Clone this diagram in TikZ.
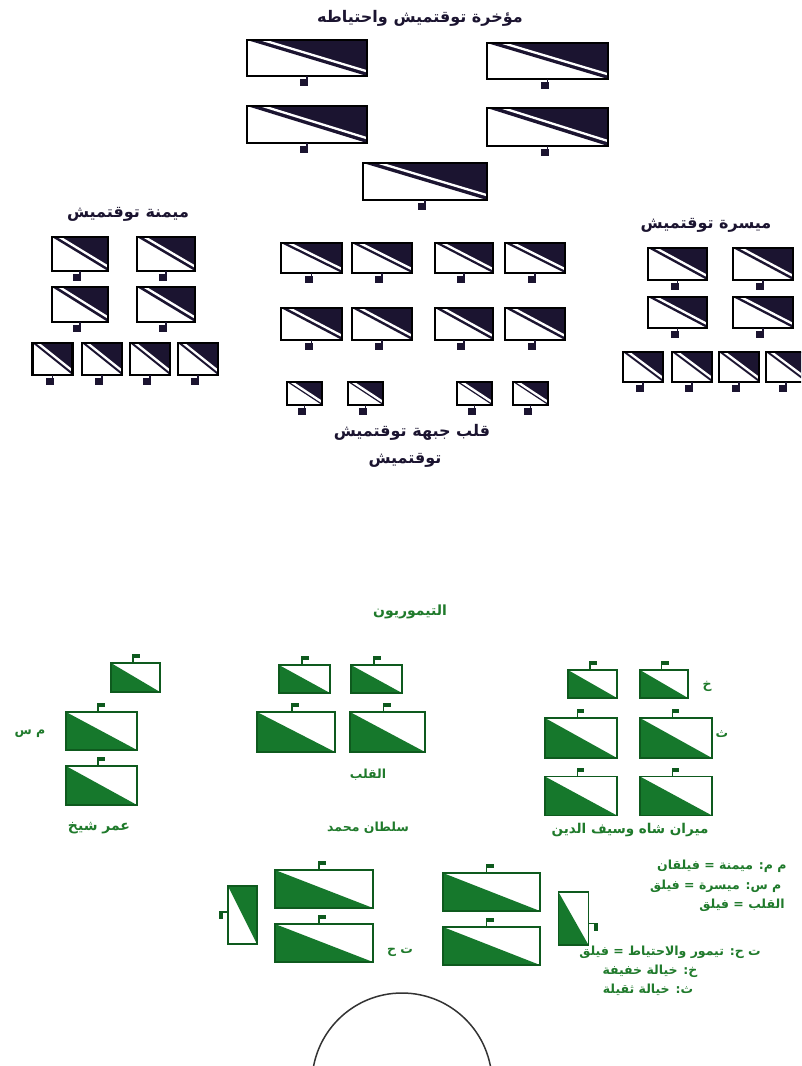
\documentclass[tikz,border=0pt]{standalone}
\usepackage{fontspec}
\usetikzlibrary{calc}
\TeXXeTstate=1
\newfontfamily\arabicfont[Script=Arabic]{DejaVu Sans}
\definecolor{navy}{HTML}{1B1430}
\definecolor{grn}{HTML}{16782C}
\definecolor{grnd}{HTML}{0E5A1E}
\definecolor{txtg}{HTML}{1F7A2B}
\newcommand{\BU}[5]{\node[bunit, minimum width=#4pt, minimum height=#5pt] (#1) at (#2,#3) {};
  \draw[navy, line width=1.4pt] (#1.south) -- ++(0,9);
  \fill[navy] ($(#1.south)+(-7,3)$) rectangle ++(8,7);}
\newcommand{\GU}[5]{\node[gunit, minimum width=#4pt, minimum height=#5pt] (#1) at (#2,#3) {};
  \draw[grnd, line width=1.3pt] ($(#1.north west)!0.45!(#1.north east)$) -- ++(0,-9);
  \fill[grnd] ($(#1.north west)!0.45!(#1.north east)+(0,-9)$) rectangle ++(7,4);}
\tikzset{
  bunit/.style={draw=black, line width=2.4pt, inner sep=0pt, outer sep=0pt,
    path picture={
      \fill[navy] (path picture bounding box.north west) -- (path picture bounding box.north east) -- (path picture bounding box.south east) -- cycle;
      \draw[white, line width=2.3pt] ($(path picture bounding box.north west)!0.13!(path picture bounding box.north east)$) -- ($(path picture bounding box.south east)!0.13!(path picture bounding box.north east)$);
    }},
  gunit/.style={draw=grnd, line width=1.6pt, inner sep=0pt, outer sep=0pt,
    path picture={
      \fill[grn] (path picture bounding box.north west) -- (path picture bounding box.south west) -- (path picture bounding box.south east) -- cycle;
    }},
  gunitv/.style={draw=grnd, line width=1.6pt, inner sep=0pt, outer sep=0pt,
    path picture={
      \fill[grn] (path picture bounding box.north west) -- (path picture bounding box.north east) -- (path picture bounding box.south east) -- cycle;
    }},
  btext/.style={font=\arabicfont\bfseries\fontsize{16}{18}\selectfont, text=navy, inner sep=0pt},
  gtext/.style={font=\arabicfont\bfseries\fontsize{12.5}{14}\selectfont, text=txtg, inner sep=0pt},
  ltext/.style={font=\arabicfont\bfseries\fontsize{12.5}{14}\selectfont, text=txtg, inner sep=0pt}
}
\begin{document}
\begin{tikzpicture}[x=1pt,y=-1pt]
\useasboundingbox (0,0) rectangle (801,1066);
\clip (0,0) rectangle (801,1066);
\fill[white] (0,0) rectangle (801,1066);

% ---------------- Tokhtamysh (top) ----------------
\node[btext] (title) at (420,18) {\beginR مؤخرة توقتميش واحتياطه\endR};
\BU{t1}{307}{58}{120}{36}
\BU{t2}{547.5}{61}{121}{36}
\BU{t3}{307}{124.5}{120}{37}
\BU{t4}{547.5}{127}{121}{38}
\BU{t5}{425}{181.5}{124}{37}

\node[btext] (ltitle) at (128,214) {\beginR ميمنة توقتميش\endR};
\BU{l1}{80}{254}{56}{34}
\BU{l2}{166}{254}{58}{34}
\BU{l3}{80}{304.5}{56}{35}
\BU{l4}{166}{304.5}{58}{35}
\BU{l5}{52.5}{359}{40}{32}
\BU{l6}{102}{359}{40}{32}
\BU{l7}{150}{359}{40}{32}
\BU{l8}{198}{359}{40}{32}

\BU{c1}{311.5}{258}{61}{30}
\BU{c2}{382}{258}{60}{30}
\BU{c3}{464}{258}{58}{30}
\BU{c4}{535}{258}{60}{30}
\BU{c5}{311.5}{324}{61}{32}
\BU{c6}{382}{324}{60}{32}
\BU{c7}{464}{324}{58}{32}
\BU{c8}{535}{324}{60}{32}
\BU{c9}{304.5}{393.5}{35}{23}
\BU{c10}{365.5}{393.5}{35}{23}
\BU{c11}{474.5}{393.5}{35}{23}
\BU{c12}{530.5}{393.5}{35}{23}
\node[btext] (ctitle) at (412,432) {\beginR قلب جبهة توقتميش\endR};
\node[btext] (tokh) at (405,460) {\beginR توقتميش\endR};

\node[btext] (rtitle) at (706,225) {\beginR ميسرة توقتميش\endR};
\BU{r1}{677.5}{264}{59}{32}
\BU{r2}{763}{264}{60}{32}
\BU{r3}{677.5}{312.5}{59}{31}
\BU{r4}{763}{312.5}{60}{31}
\BU{r5}{643}{367}{40}{30}
\BU{r6}{692}{367}{40}{30}
\BU{r7}{739}{367}{40}{30}
\BU{r8}{786}{367}{40}{30}

% ---------------- Timurids (bottom) ----------------
\node[gtext, font=\arabicfont\bfseries\fontsize{14}{16}\selectfont] (tim) at (410,612) {\beginR التيموريون\endR};

\GU{g1}{135.5}{677.5}{49}{29}
\GU{g2}{101.5}{731}{71}{38}
\GU{g3}{101.5}{785.5}{71}{39}
\node[gtext] (ms) at (30,734) {\beginR م س\endR};
\node[gtext, font=\arabicfont\bfseries\fontsize{14}{16}\selectfont] (omar) at (99,828) {\beginR عمر شيخ\endR};

\GU{g4}{304.5}{679}{51}{28}
\GU{g5}{376.5}{679}{51}{28}
\GU{g6}{296}{732}{78}{40}
\GU{g7}{387.5}{732}{75}{40}
\node[gtext] (qalb) at (368,775) {\beginR القلب\endR};
\node[gtext] (sultan) at (368,828) {\beginR سلطان محمد\endR};

\GU{g8}{592.5}{684}{49}{28}
\GU{g9}{664}{684}{48}{28}
\GU{g10}{581}{738}{72}{40}
\GU{g11}{676}{738}{72}{40}
\GU{g12}{581}{796}{72}{39}
\GU{g13}{676}{796}{72}{39}
\node[gtext] (kh) at (707,686) {\beginR خ\endR};
\node[gtext] (th) at (722,734) {\beginR ث\endR};
\node[gtext, font=\arabicfont\bfseries\fontsize{13.5}{15}\selectfont] (miran) at (630,830) {\beginR ميران شاه وسيف الدين\endR};

% reserve
\node[gunitv, minimum width=29pt, minimum height=58pt] (b1) at (242.5,915) {};
\draw[grnd, line width=1.3pt] ($(b1.north west)!0.45!(b1.south west)$) -- ++(-9,0);
\fill[grnd] ($(b1.north west)!0.45!(b1.south west)+(-9,0)$) rectangle ++(4,7);
\GU{b2}{324}{889}{98}{38}
\GU{b3}{324}{943}{98}{38}
\GU{b4}{491.5}{892}{97}{38}
\GU{b5}{491.5}{946}{97}{38}
\node[gunit, minimum width=30pt, minimum height=53pt] (b6) at (573.5,918.5) {};
\draw[grnd, line width=1.3pt] ($(b6.north east)!0.6!(b6.south east)$) -- ++(9,0);
\fill[grnd] ($(b6.north east)!0.6!(b6.south east)+(9,0)$) rectangle ++(-4,7);
\node[gtext] (tj) at (400,952) {\beginR ت ح\endR};

\node[draw=black!80, line width=1.5pt, circle, minimum size=180pt, inner sep=0pt] (camp) at (402,1083) {};

% legend
\node[ltext, anchor=west] (lg1) at (657,866) {\beginR م م: ميمنة = فيلقان\endR};
\node[ltext, anchor=west] (lg2) at (650,886) {\beginR م س: ميسرة = فيلق\endR};
\node[ltext] (lg3) at (742,905) {\beginR القلب = فيلق\endR};
\node[ltext] (lg4) at (670,952) {\beginR ت ح: تيمور والاحتياط = فيلق\endR};
\node[ltext] (lg5) at (650,971) {\beginR خ: خيالة خفيفة\endR};
\node[ltext] (lg6) at (648,990) {\beginR ث: خيالة ثقيلة\endR};
\end{tikzpicture}
\end{document}
